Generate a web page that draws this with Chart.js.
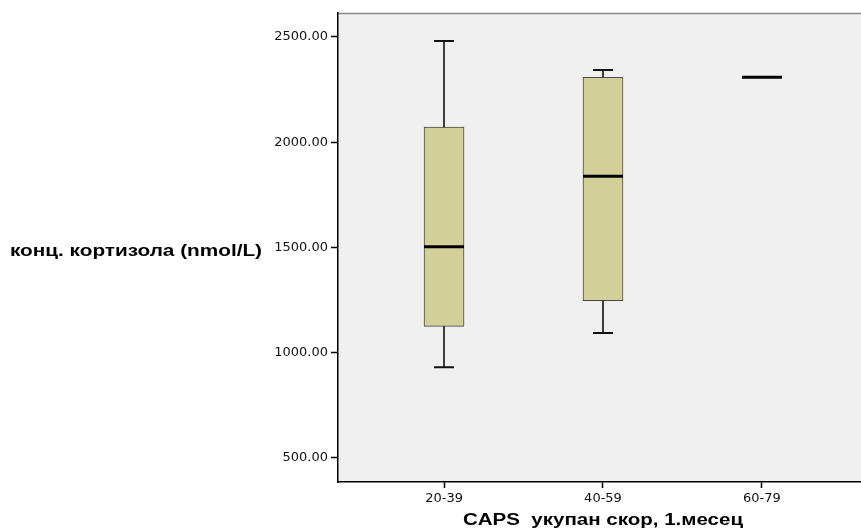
<!DOCTYPE html>
<html><head><meta charset="utf-8">
<script src="https://cdn.jsdelivr.net/npm/chart.js@4"></script>
<style>html,body{margin:0;padding:0;background:#fff}#wrap{width:861px;height:531px;position:relative}</style>
</head><body><div id="wrap"><canvas id="c"></canvas></div>
<script>
const categories = ['20-39', '40-59', '60-79'];
const whiskerLow  = [930, 1092, 2308];
const q1          = [1124, 1246, 2308];
const median      = [1502, 1838, 2308];
const q3          = [2071, 2308, 2308];
const whiskerHigh = [2481, 2343, 2308];
const yTicks = [500, 1000, 1500, 2000, 2500];
const yTitle = 'конц. кортизола (nmol/L)';
const xTitle = 'CAPS  укупан скор, 1.месец';

function stretchedText(ctx, text, left, width, y) {
  const w = ctx.measureText(text).width;
  ctx.save();
  ctx.translate(left, y);
  ctx.scale(width / w, 1);
  ctx.textAlign = 'left';
  ctx.fillText(text, 0, 0);
  ctx.restore();
}

const boxPlugin = {
  id: 'boxExtras',
  beforeDraw(chart) {
    const {ctx, chartArea: a} = chart;
    ctx.save();
    ctx.fillStyle = '#F0F0F0';
    ctx.fillRect(a.left, a.top, a.right - a.left, a.bottom - a.top);
    ctx.strokeStyle = '#8a8a8a';
    ctx.lineWidth = 1.5;
    ctx.beginPath();
    ctx.moveTo(a.left, a.top + 0.5);
    ctx.lineTo(a.right, a.top + 0.5);
    ctx.stroke();
    ctx.restore();
  },
  afterDatasetsDraw(chart) {
    const {ctx} = chart;
    const xs = chart.scales.x, ys = chart.scales.y;
    ctx.save();
    categories.forEach((c, i) => {
      const x = Math.round(xs.getPixelForValue(i));
      const yl = ys.getPixelForValue(whiskerLow[i]);
      const y1 = ys.getPixelForValue(q1[i]);
      const y3 = ys.getPixelForValue(q3[i]);
      const yh = ys.getPixelForValue(whiskerHigh[i]);
      const ym = ys.getPixelForValue(median[i]);
      ctx.strokeStyle = '#111';
      ctx.lineWidth = 1.6;
      ctx.beginPath();
      if (yl > y1 + 0.5) { ctx.moveTo(x, yl); ctx.lineTo(x, y1); }
      if (yh < y3 - 0.5) { ctx.moveTo(x, y3); ctx.lineTo(x, yh); }
      ctx.stroke();
      ctx.lineWidth = 2;
      ctx.beginPath();
      if (yl > y1 + 0.5) { ctx.moveTo(x - 10, yl); ctx.lineTo(x + 10, yl); }
      if (yh < y3 - 0.5) { ctx.moveTo(x - 10, yh); ctx.lineTo(x + 10, yh); }
      ctx.stroke();
      ctx.strokeStyle = '#000';
      ctx.lineWidth = 3;
      ctx.beginPath();
      ctx.moveTo(x - 20, ym); ctx.lineTo(x + 20, ym);
      ctx.stroke();
    });
    ctx.restore();
  },
  afterDraw(chart) {
    const {ctx} = chart;
    const ys = chart.scales.y;
    ctx.save();
    ctx.fillStyle = '#000';
    ctx.textBaseline = 'middle';
    ctx.font = 'bold 16px "Liberation Sans"';
    stretchedText(ctx, yTitle, 10, 252, ys.getPixelForValue(1500) + 4);
    stretchedText(ctx, xTitle, 463, 280, 521);
    ctx.restore();
  }
};

new Chart(document.getElementById('c'), {
  type: 'bar',
  data: {
    datasets: [{
      data: categories.map((c, i) => ({x: i, y: [q1[i], q3[i]]})),
      backgroundColor: '#D3CF98',
      borderColor: '#4a4a4a',
      borderWidth: 1,
      borderSkipped: false,
      barThickness: 40
    }]
  },
  options: {
    responsive: true,
    maintainAspectRatio: false,
    animation: false,
    layout: {padding: {top: 13, right: 0, bottom: 0, left: 0}},
    plugins: {legend: {display: false}, tooltip: {enabled: false}},
    scales: {
      x: {
        type: 'linear',
        offset: false,
        min: -0.667,
        max: 2.623,
        afterBuildTicks: s => { s.ticks = categories.map((c, i) => ({value: i})); },
        afterFit: s => { s.height = 49; },
        ticks: {
          callback: v => categories[v],
          font: {family: 'DejaVu Sans', size: 13},
          color: '#111',
          padding: 3,
          maxRotation: 0
        },
        grid: {display: true, offset: false, drawOnChartArea: false, drawTicks: true, tickLength: 6, color: '#000', tickWidth: 1.5},
        border: {display: true, color: '#000', width: 1.5}
      },
      y: {
        min: 384,
        max: 2614,
        afterBuildTicks: s => { s.ticks = yTicks.map(v => ({value: v})); },
        afterFit: s => { s.width = 338; },
        ticks: {
          callback: v => Number(v).toFixed(2),
          font: {family: 'DejaVu Sans', size: 13},
          color: '#111',
          padding: 3
        },
        grid: {display: true, drawOnChartArea: false, drawTicks: true, tickLength: 7, color: '#000', tickWidth: 1.5},
        border: {display: true, color: '#000', width: 1.5}
      }
    }
  },
  plugins: [boxPlugin]
});
</script>
</body></html>
